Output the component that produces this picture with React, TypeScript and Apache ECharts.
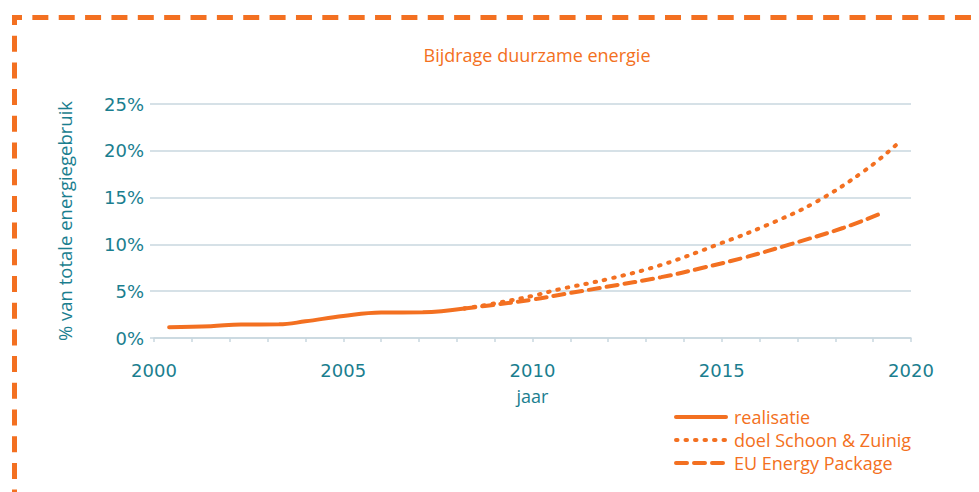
import React, { useEffect, useRef } from "react";
import * as echarts from "echarts";

const title = "Bijdrage duurzame energie";
const xName = "jaar";
const yName = "% van totale energiegebruik";
const seriesNames = ["realisatie", "doel Schoon & Zuinig", "EU Energy Package"];

const realisatie: [number, number][] = [
  [2000.4, 1.15], [2001.5, 1.25], [2002.3, 1.45], [2003.3, 1.46], [2004.0, 1.78],
  [2005.0, 2.35], [2006.0, 2.72], [2007.1, 2.74], [2008.2, 3.15],
];
const doelSchoonZuinig: [number, number][] = [
  [2008.2, 3.15], [2009.0, 3.7], [2010.0, 4.5], [2010.7, 5.2], [2012.0, 6.3],
  [2013.4, 7.8], [2014.9, 10.0], [2016.2, 12.07], [2017.5, 14.56], [2018.8, 17.95], [2019.6, 20.6],
];
const euEnergyPackage: [number, number][] = [
  [2008.2, 3.15], [2009.0, 3.55], [2010.0, 4.1], [2010.7, 4.6], [2012.0, 5.5],
  [2013.4, 6.5], [2014.5, 7.5], [2015.6, 8.6], [2016.8, 10.0], [2018.2, 11.75], [2019.2, 13.3],
];

const ORANGE = "#f37021";
const TEAL = "#1a7e8f";
const GRID = "#c9d7df";
const FONT = "Open Sans";
const NUMFONT = "DejaVu Sans";

export default function App() {
  const ref = useRef<HTMLDivElement>(null);
  useEffect(() => {
    if (!ref.current) return;
    const chart = echarts.init(ref.current, null, { renderer: "svg" });
    const transparent = "rgba(0,0,0,0)";
    chart.setOption({
      animation: false,
      textStyle: { fontFamily: FONT },
      title: {
        text: title,
        left: 532,
        textAlign: "center",
        top: 41,
        textStyle: { color: ORANGE, fontSize: 18, fontWeight: "normal", fontFamily: FONT },
      },
      grid: { left: 154, right: 68, top: 104, bottom: 154 },
      xAxis: {
        type: "value",
        min: 2000,
        max: 2020,
        interval: 5,
        name: xName,
        nameLocation: "middle",
        nameGap: 49,
        nameTextStyle: { color: TEAL, fontSize: 18, fontFamily: FONT },
        axisLine: { lineStyle: { color: GRID, width: 1.5 } },
        axisTick: { show: true, length: 4, lineStyle: { color: GRID, width: 1.5 } },
        minorTick: { show: true, splitNumber: 5, length: 4, lineStyle: { color: GRID, width: 1.5 } },
        splitLine: { show: false },
        axisLabel: { color: TEAL, fontSize: 18, margin: 23, fontFamily: NUMFONT, formatter: (v: number) => String(v) },
      },
      yAxis: {
        type: "value",
        min: 0,
        max: 25,
        interval: 5,
        name: yName,
        nameLocation: "middle",
        nameGap: 80,
        nameRotate: 90,
        nameTextStyle: { color: TEAL, fontSize: 18.5, fontFamily: FONT },
        axisLine: { show: false },
        axisTick: { show: true, length: 4, lineStyle: { color: GRID, width: 1.5 } },
        splitLine: { lineStyle: { color: GRID, width: 1.5 } },
        axisLabel: { color: TEAL, fontSize: 18, margin: 10, fontFamily: NUMFONT, formatter: "{value}%" },
      },
      legend: {
        orient: "vertical",
        left: 669,
        top: 403,
        itemWidth: 50,
        itemHeight: 14,
        itemGap: 5,
        data: seriesNames,
        itemStyle: { color: transparent, borderColor: transparent, borderWidth: 0, opacity: 0 },
        lineStyle: { width: 4, cap: "round" },
        textStyle: { color: ORANGE, fontSize: 18, fontFamily: FONT, padding: [0, 0, 0, 3] },
      },
      series: [
        {
          name: seriesNames[0],
          type: "line",
          data: realisatie,
          smooth: 0.4,
          symbol: "none",
          lineStyle: { color: ORANGE, width: 4, cap: "round" },
          itemStyle: { color: ORANGE },
        },
        {
          name: seriesNames[1],
          type: "line",
          data: doelSchoonZuinig,
          smooth: 0.4,
          symbol: "none",
          lineStyle: { color: ORANGE, width: 4, type: [1.5, 8], cap: "round" },
          itemStyle: { color: ORANGE },
        },
        {
          name: seriesNames[2],
          type: "line",
          data: euEnergyPackage,
          smooth: 0.4,
          symbol: "none",
          lineStyle: { color: ORANGE, width: 4, type: [11, 7], cap: "round" },
          itemStyle: { color: ORANGE },
        },
      ],
      graphic: [
        {
          type: "line",
          shape: { x1: 12, y1: 17.5, x2: 990, y2: 17.5 },
          style: { stroke: ORANGE, lineWidth: 5, lineDash: [16, 10.36], lineDashOffset: 6 },
          silent: true,
        },
        {
          type: "line",
          shape: { x1: 14.5, y1: 15, x2: 14.5, y2: 500 },
          style: { stroke: ORANGE, lineWidth: 5, lineDash: [16, 10.7], lineDashOffset: 6 },
          silent: true,
        },
      ],
    });
    return () => chart.dispose();
  }, []);
  return <div ref={ref} style={{ width: 979, height: 492, position: "absolute", left: 0, top: 0 }} />;
}
